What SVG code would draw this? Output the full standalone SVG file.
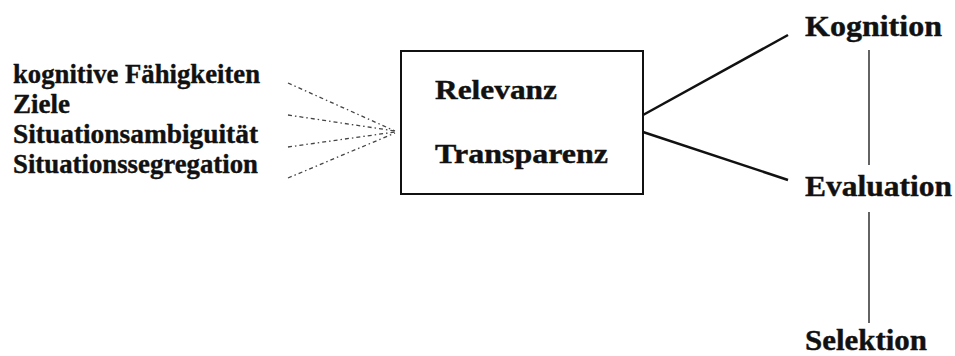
<svg xmlns="http://www.w3.org/2000/svg" width="955" height="356" viewBox="0 0 955 356">
<style>
text{font-family:"Liberation Serif","Times New Roman",serif;font-weight:bold;fill:#111;stroke:#111;stroke-width:0.4}
.l{font-size:28px}
.b{font-size:27px}
.r{font-size:29px}
.dash{stroke:#444;stroke-width:1.3;stroke-dasharray:4 3 1.5 3;fill:none}
.solid{stroke:#111;stroke-width:2.5;fill:none}
.thin{stroke:#222;stroke-width:1.4;fill:none}
</style>
<rect width="955" height="356" fill="#fff"/>
<g id="inputs">
<text class="l" x="13" y="83" textLength="247" lengthAdjust="spacingAndGlyphs">kognitive Fähigkeiten</text>
<text class="l" x="13" y="113" textLength="57" lengthAdjust="spacingAndGlyphs">Ziele</text>
<text class="l" x="13" y="143" textLength="245" lengthAdjust="spacingAndGlyphs">Situationsambiguität</text>
<text class="l" x="13" y="173" textLength="245" lengthAdjust="spacingAndGlyphs">Situationssegregation</text>
</g>
<g id="box">
<rect x="401" y="51" width="242" height="143" fill="#fff" stroke="#111" stroke-width="2"/>
<text class="b" x="435" y="99" textLength="122" lengthAdjust="spacingAndGlyphs">Relevanz</text>
<text class="b" x="435" y="163" textLength="173" lengthAdjust="spacingAndGlyphs">Transparenz</text>
</g>
<g id="kognition"><text class="r" x="805" y="36" textLength="137" lengthAdjust="spacingAndGlyphs">Kognition</text></g>
<g id="evaluation"><text class="r" x="805" y="196" textLength="147" lengthAdjust="spacingAndGlyphs">Evaluation</text></g>
<g id="selektion"><text class="r" x="805" y="350" textLength="122" lengthAdjust="spacingAndGlyphs">Selektion</text></g>
<g id="connectors">
<line class="dash" x1="288" y1="83" x2="395" y2="131"/>
<line class="dash" x1="288" y1="115" x2="395" y2="131"/>
<line class="dash" x1="288" y1="147" x2="395" y2="132"/>
<line class="dash" x1="288" y1="178" x2="395" y2="133"/>
<line class="solid" x1="643" y1="115" x2="788" y2="35"/>
<line class="solid" x1="643" y1="132" x2="788" y2="180"/>
<line class="thin" x1="869" y1="50" x2="869" y2="165"/>
<line class="thin" x1="869" y1="212" x2="869" y2="323"/>
</g>
</svg>
